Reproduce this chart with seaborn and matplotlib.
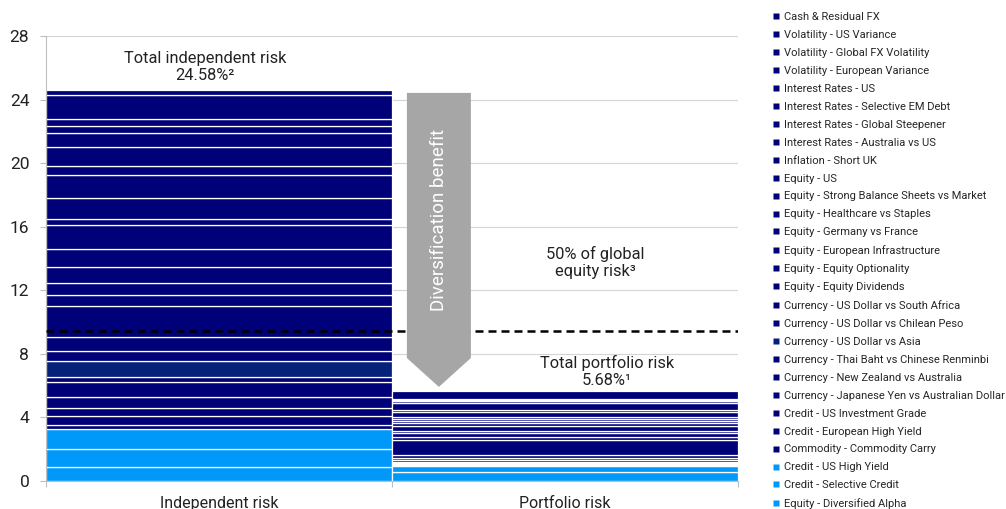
import numpy as np
import pandas as pd
import matplotlib
matplotlib.use("Agg")
import matplotlib.pyplot as plt
from matplotlib.lines import Line2D
from matplotlib.patches import Polygon
import seaborn as sns

# Risk contributions (% volatility), listed from the top of each stack downwards
items = [
    "Cash & Residual FX",
    "Volatility - US Variance",
    "Volatility - Global FX Volatility",
    "Volatility - European Variance",
    "Interest Rates - US",
    "Interest Rates - Selective EM Debt",
    "Interest Rates - Global Steepener",
    "Interest Rates - Australia vs US",
    "Inflation - Short UK",
    "Equity - US",
    "Equity - Strong Balance Sheets vs Market",
    "Equity - Healthcare vs Staples",
    "Equity - Germany vs France",
    "Equity - European Infrastructure",
    "Equity - Equity Optionality",
    "Equity - Equity Dividends",
    "Currency - US Dollar vs South Africa",
    "Currency - US Dollar vs Chilean Peso",
    "Currency - US Dollar vs Asia",
    "Currency - Thai Baht vs Chinese Renminbi",
    "Currency - New Zealand vs Australia",
    "Currency - Japanese Yen vs Australian Dollar",
    "Credit - US Investment Grade",
    "Credit - European High Yield",
    "Commodity - Commodity Carry",
    "Credit - US High Yield",
    "Credit - Selective Credit",
    "Equity - Diversified Alpha",
]
independent_risk = [
    0.30, 1.48, 0.47, 0.45, 0.84, 1.24, 0.52, 1.45, 1.36, 0.34,
    1.52, 1.14, 1.01, 0.76, 0.67, 1.94, 0.92, 0.61, 1.04, 0.29,
    0.94, 0.71, 0.51, 0.57, 0.25, 1.21, 1.17, 0.87,
]
portfolio_risk = [
    0.52, 0.05, 0.05, 0.05, 0.12, 0.42, 0.11, 0.31, 0.15, 0.12,
    0.15, 0.17, 0.31, 0.15, 0.21, 0.21, 0.94, 0.21, 0.11, 0.10,
    0.11, 0.04, 0.03, 0.02, 0.02, 0.04, 0.38, 0.58,
]
bar_labels = ["Independent risk", "Portfolio risk"]
total_independent = 24.58
total_portfolio = 5.68
equity_half_risk = 9.45
y_ticks = [0, 4, 8, 12, 16, 20, 24, 28]

NAVY = "#000078"
NAVY_ALT = "#06217a"
SKY = "#0099fa"
colours = {}
for name in items:
    colours[name] = NAVY
colours["Currency - US Dollar vs Asia"] = NAVY_ALT
for name in items[-3:]:
    colours[name] = SKY

df = pd.DataFrame({
    "bar": np.repeat([0, 1], len(items)),
    "item": items * 2,
    "risk": independent_risk + portfolio_risk,
})

sns.set_theme(style="white")
plt.rcParams["font.family"] = ["Roboto", "DejaVu Sans"]

fig = plt.figure(figsize=(10.06, 5.09), dpi=100)
ax = fig.add_axes([46 / 1006, 28 / 509, 692 / 1006, 445 / 509])

sns.histplot(
    data=df, x="bar", weights="risk", hue="item", hue_order=items,
    palette=colours, multiple="stack", discrete=True, shrink=1.0,
    alpha=1.0, edgecolor="white", linewidth=0.9, legend=False, ax=ax,
    zorder=2,
)

ax.set_xlim(-0.5, 1.5)
ax.set_ylim(0, 28)
ax.set_yticks(y_ticks)
ax.set_yticklabels([str(t) for t in y_ticks], fontsize=12.5, color="#222222")
ax.yaxis.grid(True, color="#d4d4d4", linewidth=0.8, zorder=0)
ax.set_axisbelow(True)
ax.set_xlabel("")
ax.set_ylabel("")

ax.set_xticks([0, 1])
ax.set_xticklabels(bar_labels, fontsize=11.5, color="#222222")
ax.set_xticks([-0.5, 0.5, 1.5], minor=True)
ax.tick_params(axis="x", which="major", length=0, pad=11)
ax.tick_params(axis="x", which="minor", length=4, width=0.8, color="#bfbfbf",
               direction="out", bottom=True)
ax.tick_params(axis="y", length=4, width=0.8, color="#bfbfbf",
               direction="out", left=True, pad=8)

for side in ["top", "right"]:
    ax.spines[side].set_visible(False)
for side in ["left", "bottom"]:
    ax.spines[side].set_color("#bfbfbf")
    ax.spines[side].set_linewidth(0.8)

# 50% of global equity risk reference line
ax.axhline(equity_half_risk, color="black", linewidth=1.8,
           linestyle=(0, (3.2, 2.0)), zorder=4)

# Diversification arrow, from the independent total down towards the portfolio total
ax_left, ax_right = 0.543, 0.728
ax_mid = (ax_left + ax_right) / 2
arrow_top = total_independent - 0.16
arrow_tip = total_portfolio + 0.24
shaft_end = arrow_tip + 1.82
ax.add_patch(Polygon(
    [(ax_left, arrow_top), (ax_right, arrow_top), (ax_right, shaft_end),
     (ax_mid, arrow_tip), (ax_left, shaft_end)],
    closed=True, facecolor="#a6a6a6", edgecolor="none", zorder=5,
))
ax.text(ax_mid, 16.45, "Diversification benefit", rotation=90, color="white",
        fontsize=13.5, ha="center", va="center", zorder=6)

ax.text(-0.04, total_independent + 1.47,
        f"Total independent risk\n{total_independent:.2f}%\u00b2",
        ha="center", va="center", fontsize=11.8, linespacing=1.2,
        color="#222222", zorder=6)
ax.text(1.121, total_portfolio + 1.21,
        f"Total portfolio risk\n{total_portfolio:.2f}%\u00b9",
        ha="center", va="center", fontsize=11.8, linespacing=1.2,
        color="#222222", zorder=6)
ax.text(1.087, 13.75, "50% of global\nequity risk\u00b3",
        ha="center", va="center", fontsize=11.8, linespacing=1.2,
        color="#222222", zorder=6)

handles = [Line2D([0], [0], marker="s", linestyle="none", markersize=4.5,
                  markerfacecolor=colours[name], markeredgecolor="none")
           for name in items]
fig.legend(handles, items, loc="upper left",
           bbox_to_anchor=(773 / 1006, 1 - 12 / 509),
           frameon=False, fontsize=8.0, handlelength=0.6, handletextpad=0.35,
           labelspacing=0.715, borderaxespad=0.0, borderpad=0.0)

fig.savefig("out.png", dpi=100)
